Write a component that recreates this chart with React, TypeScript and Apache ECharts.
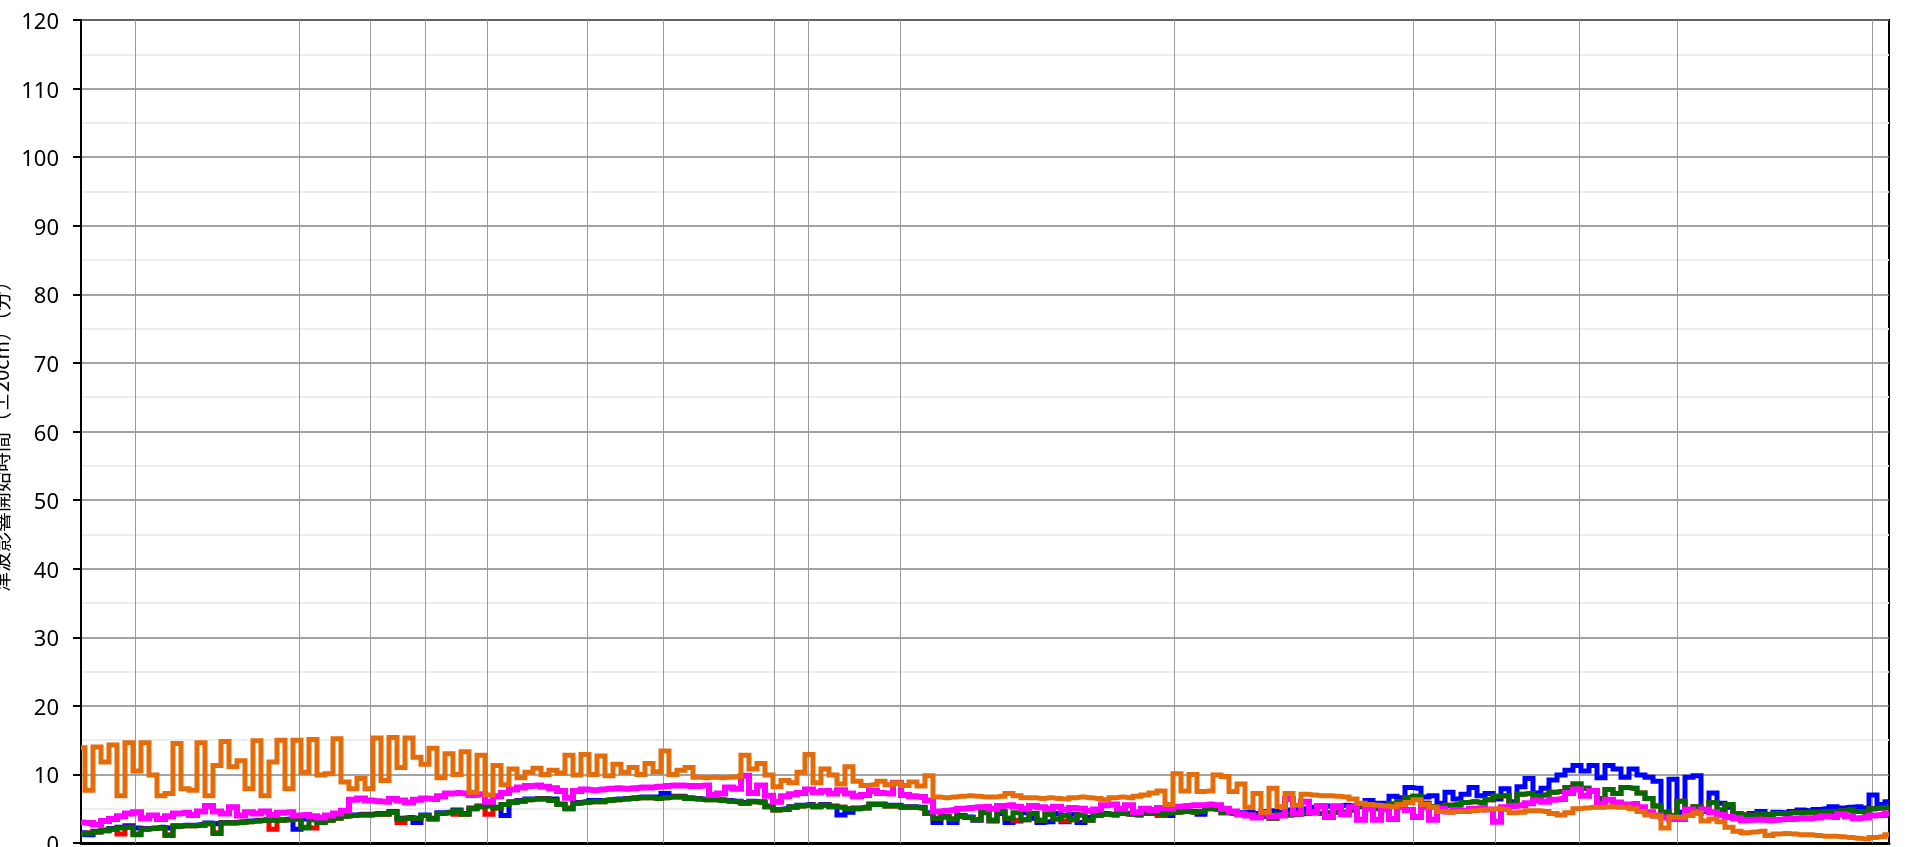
import React, { useEffect, useRef } from "react";
import * as echarts from "echarts";

// x = sample index along the coast (0..226); vertical lines = section boundaries
const boundaries = [6.83, 27.25, 36.1, 43.0, 50.75, 63.25, 72.75, 86.6, 90.95, 102.4, 136.6, 166.5, 176.75, 187.25, 199.5, 223.9];

const orange = [
  13.9,7.7,14.0,11.8,14.3,6.9,14.6,10.5,14.6,9.9,6.9,7.2,14.5,7.9,7.7,14.6,6.9,11.3,14.8,11.1,12.0,7.9,14.9,6.9,11.8,15.0,7.9,15.0,10.3,15.1,9.9,10.1,15.2,8.9,7.9,9.4,7.9,15.3,9.1,
  15.4,11.0,15.3,12.5,11.5,13.8,9.5,13.0,10.0,13.3,7.4,12.8,7.0,11.3,8.5,10.8,9.5,10.3,10.9,10.0,10.6,10.2,12.8,9.9,12.9,10.0,12.7,9.8,11.5,10.3,11.0,10.0,11.6,10.4,13.4,10.0,
  10.6,11.0,9.6,9.5,9.6,9.5,9.6,9.7,12.8,10.8,11.6,9.9,8.2,9.1,8.8,10.3,12.9,8.8,10.8,9.9,8.6,11.1,9.0,8.4,8.5,9.0,8.5,8.8,8.4,8.9,8.3,9.8,6.7,6.6,6.7,6.8,6.9,6.8,
  6.7,6.7,6.8,7.2,6.9,6.6,6.6,6.5,6.6,6.5,6.4,6.6,6.7,6.6,6.5,6.3,6.6,6.7,6.6,6.8,7.0,7.3,7.6,5.6,10.1,7.6,10.0,7.5,7.6,9.9,9.7,7.5,8.6,5.2,7.2,4.5,8.0,
  5.3,7.2,5.5,7.1,7.0,6.9,6.9,6.8,6.7,6.4,5.8,5.6,5.5,5.4,5.3,5.6,5.9,6.3,5.6,5.2,4.6,4.5,4.6,4.6,4.7,4.8,4.9,5.0,4.9,4.4,4.5,4.7,4.7,4.6,4.3,4.1,4.4,5.0,
  5.1,5.2,5.2,5.3,5.2,5.2,5.0,4.6,4.1,3.9,2.2,3.8,3.7,4.0,4.4,3.2,3.5,3.1,2.3,1.7,1.5,1.6,1.7,1.1,1.3,1.4,1.3,1.2,1.2,1.1,1.0,1.0,0.9,0.8,0.7,0.6,0.8,0.9,1.2,
];

const magenta = [
  3.0,2.9,2.7,3.2,3.5,3.9,4.3,4.5,3.6,4.0,3.5,3.9,4.3,4.4,4.1,4.6,5.4,4.6,4.3,5.2,4.0,4.5,4.3,4.6,4.1,4.4,4.5,4.0,4.1,3.9,3.7,4.0,4.3,4.7,6.3,6.5,6.2,6.1,6.0,
  6.4,6.2,5.9,6.3,6.5,6.4,6.8,7.2,7.3,7.2,7.0,7.1,6.0,6.8,7.3,7.8,8.1,8.3,8.4,8.2,8.0,7.6,6.6,7.6,7.8,7.7,7.8,7.9,8.0,7.9,8.0,8.1,8.1,8.2,8.3,8.4,8.4,
  8.3,8.3,8.4,7.0,7.2,8.1,7.9,9.8,7.3,8.4,6.9,6.0,6.8,7.1,7.3,7.8,7.4,7.6,7.2,7.7,7.2,6.8,7.0,7.6,7.3,7.2,8.8,7.0,6.8,6.7,6.2,4.6,4.7,4.8,5.0,5.1,5.2,
  5.3,5.0,5.4,5.5,5.3,5.0,5.4,5.2,5.0,5.3,4.9,5.1,5.0,4.7,4.9,5.5,5.6,5.0,5.5,4.5,5.0,4.8,5.1,5.0,5.3,5.4,5.5,5.5,5.6,5.5,5.0,4.6,4.2,4.0,3.7,4.3,3.9,
  4.0,6.4,4.3,6.0,4.5,5.4,3.8,5.3,4.2,5.2,3.4,5.0,3.4,4.9,3.5,5.2,4.8,3.8,5.2,3.4,5.0,4.6,4.8,4.7,5.0,5.1,4.9,3.1,5.2,5.4,5.5,5.8,6.2,6.0,6.3,6.4,7.3,7.8,
  6.9,7.6,5.7,6.3,5.9,5.6,5.7,5.2,4.5,4.0,3.7,3.5,3.5,4.9,4.4,4.9,4.5,4.1,3.8,3.6,3.3,3.4,3.4,3.3,3.4,3.5,3.5,3.6,3.6,3.7,3.9,3.8,4.2,3.9,3.6,3.7,4.0,4.1,4.3,
];

const green = [
  1.3,1.4,1.6,1.8,2.0,2.2,2.3,1.2,2.0,2.1,2.2,1.1,2.4,2.5,2.5,2.6,2.8,1.4,2.9,2.9,3.0,3.1,3.2,3.3,3.3,3.3,3.4,3.5,2.2,3.4,3.0,3.3,3.6,3.9,4.0,4.1,4.1,4.2,4.2,
  4.5,3.5,3.6,3.6,4.0,3.5,4.3,4.4,4.7,4.2,5.0,5.3,5.4,5.1,5.6,5.9,6.1,6.3,6.4,6.4,6.2,5.6,5.0,5.8,5.9,6.0,6.0,6.2,6.3,6.4,6.5,6.6,6.6,6.5,6.6,6.7,6.7,
  6.5,6.4,6.3,6.3,6.2,6.1,6.0,5.8,6.0,5.9,5.3,4.8,4.9,5.2,5.4,5.5,5.3,5.5,5.3,5.2,5.0,5.0,5.1,5.6,5.6,5.4,5.4,5.2,5.2,5.1,4.3,3.6,3.8,3.5,3.9,3.7,3.4,
  4.5,3.3,4.6,3.6,4.4,3.4,4.3,3.3,4.2,3.5,4.0,3.4,4.1,3.3,4.0,4.2,4.1,4.3,4.2,4.1,4.3,4.3,4.2,4.4,4.5,4.6,4.5,4.6,5.0,4.9,4.4,4.3,4.2,4.1,4.0,3.9,3.6,
  4.2,4.1,4.2,4.3,4.4,4.3,4.4,4.5,4.5,4.8,5.3,5.1,5.0,5.4,5.7,6.0,6.6,6.8,5.8,5.3,5.3,5.5,5.6,5.9,6.0,5.9,6.3,6.8,6.9,5.7,7.1,7.2,6.9,7.0,7.4,7.5,8.1,8.6,
  8.0,7.5,6.5,7.8,7.2,8.1,8.0,7.3,6.5,5.4,4.5,4.0,6.1,4.8,5.3,4.6,5.9,4.8,5.6,4.3,4.1,4.0,4.2,4.1,4.3,4.3,4.4,4.4,4.5,4.5,4.6,4.6,4.7,4.8,4.6,4.5,5.0,5.1,5.2,
];

const blue = [
  1.5,1.2,1.7,1.9,2.1,2.3,2.5,2.2,2.1,2.2,2.3,2.2,2.5,2.6,2.6,2.7,2.9,2.8,3.0,3.0,3.1,3.2,3.3,3.4,3.4,3.4,3.5,2.0,3.5,3.5,3.1,3.4,3.7,4.0,4.1,4.2,4.2,4.3,4.3,
  4.6,3.6,3.7,3.0,4.1,3.6,4.4,4.5,4.8,4.3,5.1,5.4,5.5,5.2,4.0,6.0,6.2,6.4,6.5,6.5,6.4,5.7,5.1,5.9,6.0,6.2,6.2,6.3,6.4,6.5,6.6,6.7,6.7,6.7,7.2,6.8,6.8,
  6.6,6.5,6.4,6.4,6.3,6.2,6.1,5.9,6.1,6.0,5.4,4.9,5.0,5.3,5.5,5.6,5.4,5.6,5.4,4.1,4.5,5.1,5.2,5.7,5.7,5.5,5.5,5.3,5.3,5.2,4.4,3.0,3.9,3.0,4.0,3.8,3.3,
  4.4,3.2,4.3,3.0,3.2,4.4,3.6,3.0,3.1,4.3,3.1,4.2,3.0,3.7,4.1,4.3,4.2,4.4,4.3,4.2,4.4,4.5,4.4,4.0,4.6,4.7,4.6,4.2,5.1,5.0,4.6,4.5,4.4,4.5,4.3,4.6,4.7,
  4.5,4.8,4.9,5.0,5.2,5.3,5.4,5.4,5.5,5.4,5.6,6.2,5.8,5.8,6.8,6.6,8.1,8.0,6.7,6.9,5.8,7.4,6.4,7.1,8.1,6.9,7.2,6.4,7.9,6.0,8.2,9.4,7.3,8.0,9.2,9.9,10.6,11.3,
  10.5,11.3,9.5,11.3,10.8,9.6,10.8,9.9,9.6,9.0,4.3,9.3,4.5,9.6,9.8,4.6,7.3,5.8,5.2,4.2,4.1,4.3,4.6,4.2,4.5,4.4,4.6,4.8,4.7,4.9,5.0,5.3,5.1,5.2,5.3,5.1,7.0,5.6,6.0,
];

const red = [
  1.4,1.5,1.6,1.8,2.0,1.3,2.3,1.3,2.0,2.1,2.2,1.2,2.4,2.5,2.5,2.6,2.8,1.5,2.9,2.9,3.0,3.1,3.2,3.3,2.0,3.3,3.4,3.5,2.3,2.2,3.0,3.3,3.6,3.9,4.0,4.1,4.1,4.2,4.2,
  4.5,3.0,3.6,3.6,4.0,3.5,4.3,4.4,4.2,4.2,5.0,5.3,4.2,5.1,5.6,5.9,6.1,6.3,6.4,6.4,6.2,5.6,5.0,5.8,5.9,6.0,6.0,6.2,6.3,6.4,6.5,6.6,6.6,6.5,6.6,6.7,6.7,
  6.5,6.4,6.3,6.3,6.2,6.1,6.0,5.8,6.0,5.9,5.3,4.8,4.9,5.2,5.4,5.5,5.3,5.5,5.3,5.2,5.0,5.0,5.1,5.6,5.6,5.4,5.4,5.2,5.2,5.1,4.3,3.6,3.8,3.5,3.9,3.7,3.4,
  4.5,3.3,4.6,3.6,3.3,3.4,4.3,3.3,4.2,3.5,3.2,3.4,4.1,3.3,4.0,4.2,4.1,4.3,4.2,4.1,4.3,4.3,4.0,4.4,4.5,4.6,4.5,4.6,5.0,4.9,4.4,4.3,4.2,4.1,4.0,3.9,3.6,
  4.2,4.1,4.2,4.3,4.4,4.3,4.4,4.5,4.5,4.8,5.3,5.1,5.0,5.4,5.7,6.0,6.6,6.8,5.8,5.3,5.3,5.5,5.6,5.9,6.0,5.9,6.3,6.8,6.9,5.7,7.1,7.2,6.9,7.0,7.4,7.5,8.1,8.6,
  8.0,7.5,6.5,7.8,7.2,8.1,8.0,7.3,6.5,5.4,4.5,4.0,6.1,4.8,5.3,4.6,5.9,4.8,5.6,4.3,4.1,4.0,4.2,4.1,4.3,4.3,4.4,4.4,4.5,4.5,4.6,4.6,4.7,4.8,4.6,4.5,5.0,5.1,5.2,
];

const yAxisName = "津波影響開始時間（±20cm）（分）";

export default function App() {
  const ref = useRef<HTMLDivElement>(null);
  useEffect(() => {
    if (!ref.current) return;
    const chart = echarts.init(ref.current, null, { renderer: "svg" });
    const toPts = (a: number[]) => a.map((v, i) => [i, v]);
    const line = (name: string, color: string, data: number[], width: number, z: number) => ({
      type: "line",
      name,
      data: toPts(data),
      step: "middle",
      symbol: "none",
      showSymbol: false,
      silent: true,
      z,
      lineStyle: { color, width, join: "miter" },
      itemStyle: { color },
    });
    chart.setOption({
      animation: false,
      textStyle: { fontFamily: "Noto Sans" },
      grid: {
        left: 81,
        right: 26,
        top: 20,
        bottom: 4,
        containLabel: false,
        outerBoundsMode: "none",
        show: true,
        borderColor: "#000",
        borderWidth: 2,
        backgroundColor: "transparent",
      },
      xAxis: {
        type: "value",
        min: 0,
        max: 226,
        axisLine: { show: true, onZero: false, lineStyle: { color: "#000", width: 3 } },
        axisTick: { show: false },
        axisLabel: { show: false },
        splitLine: { show: false },
      },
      yAxis: {
        type: "value",
        min: 0,
        max: 120,
        interval: 10,
        name: yAxisName,
        nameLocation: "middle",
        nameGap: 70,
        nameRotate: 90,
        nameTextStyle: { fontSize: 20, color: "#000", fontFamily: "Noto Sans CJK JP" },
        axisLine: { show: true, lineStyle: { color: "#000", width: 2 } },
        axisTick: { show: true, length: 8, lineStyle: { color: "#000", width: 2 } },
        axisLabel: {
          show: true,
          color: "#000",
          margin: 22,
          fontSize: 22,
          fontFamily: "Noto Sans",
        },
        splitLine: { show: true, lineStyle: { color: "#858585", width: 1.5 } },
        minorTick: { show: false, splitNumber: 2 },
        minorSplitLine: { show: true, lineStyle: { color: "#ededed", width: 2 } },
      },
      series: [
        {
          type: "lines",
          coordinateSystem: "cartesian2d",
          silent: true,
          z: 1,
          lineStyle: { color: "#9a9a9a", width: 1, opacity: 1 },
          data: boundaries.map((b) => ({ coords: [[b, 0], [b, 120]] })),
        },
        line("blue", "#0000FF", blue, 5, 2),
        line("red", "#FF0000", red, 5, 3),
        line("green", "#006B00", green, 5, 4),
        line("magenta", "#FF00FF", magenta, 6, 5),
        line("orange", "#E46C0A", orange, 5, 6),
      ],
    });
    return () => chart.dispose();
  }, []);
  return (
    <div
      ref={ref}
      style={{ position: "fixed", left: 0, top: 0, width: 1915, height: 847 }}
    />
  );
}
